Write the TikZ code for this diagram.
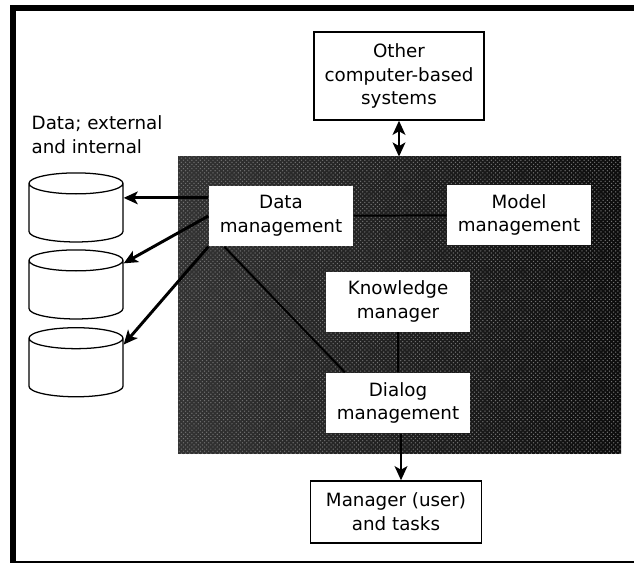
\documentclass[tikz,border=0pt]{standalone}
\usepackage{fontspec}
\setmainfont{DejaVu Sans}
\usetikzlibrary{arrows.meta,shapes.geometric,positioning,patterns}
\newcommand{\drumspace}{\phantom{\rule{2.35cm}{0.925cm}}}

\begin{document}
\begin{tikzpicture}[
    box/.style={rectangle,draw=black,fill=white,line width=1pt,minimum width=4.25cm,align=center,font=\fontsize{13}{17}\selectfont,inner sep=0pt},
    inbox/.style={box,draw=none,minimum width=3.6cm,minimum height=1.5cm},
    drum/.style={cylinder,shape border rotate=90,shape aspect=0.223,draw=black,fill=white,line width=0.9pt,inner sep=0pt},
    arrow/.style={-{Stealth[length=10pt,width=9pt,inset=2.5pt]},line width=2.1pt},
    link/.style={line width=1.4pt,black}
]
    % Page and frame
    \useasboundingbox (0,0) rectangle (15.85,14.075);
    \fill[black] (0.25,0) rectangle (0.4,13.95);
    \fill[black] (0.25,13.8) rectangle (15.85,13.95);
    \fill[black] (0.25,0.01) rectangle (15.85,0.045);

    % Dark panel
    \node[rectangle,minimum width=11.075cm,minimum height=7.425cm,left color=black!80,right color=black!95] (panel) at (9.99,6.44) {};
    \fill[pattern=crosshatch dots,pattern color=black!55] (panel.south west) rectangle (panel.north east);

    % Boxes inside the panel
    \node[inbox] (data) at (7.025,8.675) {Data\\management};
    \node[inbox] (model) at (12.975,8.7) {Model\\management};
    \node[inbox] (know) at (9.95,6.5375) {Knowledge\\manager};
    \node[inbox] (dialog) at (9.95,4) {Dialog\\management};

    % Links between them
    \draw[link] (data) -- (model);
    \draw[link] (data.south west) ++(0.4,0) -- (dialog.150);
    \draw[link] (know) -- (dialog);

    % Outside boxes
    \node[box,minimum height=2.2cm] (other) at (9.975,12.175) {Other\\computer-based\\systems};
    \node[box,minimum height=1.55cm,minimum width=4.275cm] (manager) at (9.9,1.275) {Manager (user)\\and tasks};
    \draw[arrow,{Stealth[length=10pt,width=9pt,inset=2.5pt]}-{Stealth[length=10pt,width=9pt,inset=2.5pt]}] (other) -- (other |- panel.north);
    \draw[arrow] ([xshift=0.075cm]dialog.south) -- ([xshift=0.075cm]dialog.south |- manager.north);

    % Data stores
    \node[box,draw=none,fill=none,minimum width=0pt,align=left,anchor=north west] (stores) at (0.775,11.2) {Data; external\\and internal};
    \node[drum] (db1) at (1.9,8.75) {\drumspace};
    \node[drum] (db2) at (1.9,6.825) {\drumspace};
    \node[drum] (db3) at (1.9,4.88) {\drumspace};
    \draw[arrow] (data.166) -- (data.166 -| db1.east);
    \draw[arrow] (data.west) -- (db2);
    \draw[arrow] (data.south west) -- (db3.26);
\end{tikzpicture}
\end{document}
